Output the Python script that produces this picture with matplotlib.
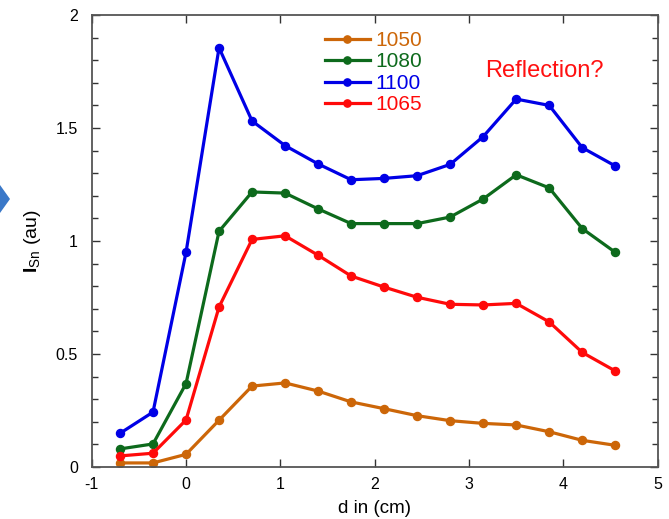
import matplotlib
matplotlib.use("Agg")
import matplotlib.pyplot as plt
from matplotlib.ticker import MultipleLocator, FuncFormatter
from matplotlib.patches import Polygon

plt.rcParams['font.family'] = ['Liberation Sans', 'DejaVu Sans']
plt.rcParams['mathtext.fontset'] = 'custom'
plt.rcParams['mathtext.rm'] = 'Liberation Sans'
plt.rcParams['mathtext.bf'] = 'Liberation Sans:bold'
plt.rcParams['mathtext.it'] = 'Liberation Sans:italic'

d = [-0.7, -0.35, 0.0, 0.35, 0.7, 1.05, 1.4, 1.75, 2.1, 2.45, 2.8, 3.15, 3.5, 3.85, 4.2, 4.55]
i1050 = [0.018, 0.018, 0.056, 0.207, 0.358, 0.372, 0.336, 0.288, 0.258, 0.227, 0.205, 0.193, 0.186, 0.156, 0.118, 0.096]
i1080 = [0.080, 0.102, 0.369, 1.043, 1.217, 1.212, 1.142, 1.077, 1.077, 1.077, 1.106, 1.186, 1.293, 1.235, 1.055, 0.950]
i1100 = [0.149, 0.243, 0.950, 1.855, 1.531, 1.422, 1.341, 1.271, 1.277, 1.289, 1.339, 1.462, 1.628, 1.600, 1.413, 1.332]
i1065 = [0.049, 0.061, 0.208, 0.708, 1.007, 1.023, 0.937, 0.845, 0.796, 0.751, 0.720, 0.717, 0.724, 0.642, 0.507, 0.425]

series = [("1050", i1050, "#cc6608"),
          ("1080", i1080, "#0d6a1c"),
          ("1100", i1100, "#0000e6"),
          ("1065", i1065, "#ff0a0a")]

fig = plt.figure(figsize=(6.69, 5.19), dpi=100)
ax = fig.add_axes([91.7/669, 52/519, 566/669, 452/519])

for name, vals, col in series:
    ax.plot(d, vals, '-o', color=col, lw=2.3, ms=5.8, label=name)

ax.set_xlim(-1, 5)
ax.set_ylim(0, 2)
ax.xaxis.set_major_locator(MultipleLocator(1))
ax.yaxis.set_major_locator(MultipleLocator(0.5))
ax.yaxis.set_minor_locator(MultipleLocator(0.1))
fmt = FuncFormatter(lambda v, p: "%g" % v)
ax.xaxis.set_major_formatter(fmt)
ax.yaxis.set_major_formatter(fmt)
ax.tick_params(axis='both', which='both', direction='in', top=True, right=True,
               labelsize=11.5, colors='#333333', labelcolor='black')
ax.tick_params(axis='both', which='major', length=6, width=1)
ax.tick_params(axis='y', which='minor', length=4, width=1)
ax.tick_params(axis='y', which='major', pad=10)
ax.tick_params(axis='x', which='major', pad=7)
for s in ax.spines.values():
    s.set_color('#555555')
    s.set_linewidth(1.3)

ax.set_xlabel("d in (cm)", fontsize=13.5, labelpad=6)
ax.set_ylabel(r"$\mathbf{I}_{\mathrm{Sn}}$ (au)", fontsize=14, labelpad=9)

leg = ax.legend(loc='upper left', bbox_to_anchor=((325-91.7)/566, (467-31)/452),
                frameon=False, fontsize=15, handlelength=2.15, handletextpad=0.25,
                labelspacing=0.12, borderpad=0, borderaxespad=0, markerscale=0.9,
                labelcolor='linecolor')

ax.text(3.17, 1.727, "Reflection?", color="#ff1010", fontsize=17, va='baseline', ha='left')

tri = Polygon([[0, 0], [1, 1], [0, 1]], closed=True, transform=None,
              facecolor='#3a78c8', edgecolor='none')
tri.set_xy([[x, 519 - y] for x, y in [[0, 185], [10, 199], [0, 213]]])
fig.patches.append(tri)

fig.savefig("out.png", dpi=100)
